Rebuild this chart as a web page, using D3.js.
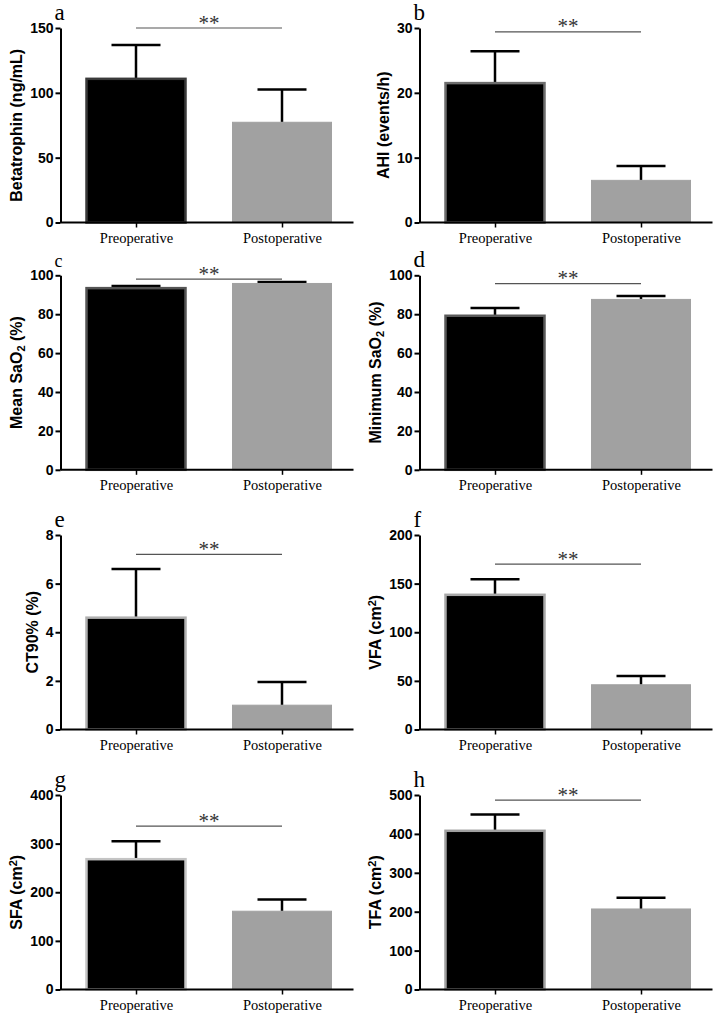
<!DOCTYPE html>
<html><head><meta charset="utf-8">
<script src="https://cdn.jsdelivr.net/npm/d3@7"></script>
<style>body{margin:0;background:#fff}</style>
</head><body>
<svg id="chart" width="716" height="1016"></svg>
<script>
// ---- data ----
const categories = ["Preoperative", "Postoperative"];
const panelLetters = ["a", "b", "c", "d", "e", "f", "g", "h"];
const yTitles = [
  [["Betatrophin (ng/mL)", ""]],
  [["AHI (events/h)", ""]],
  [["Mean SaO", ""], ["2", "sub"], [" (%)", ""]],
  [["Minimum SaO", ""], ["2", "sub"], [" (%)", ""]],
  [["CT90% (%)", ""]],
  [["VFA (cm", ""], ["2", "sup"], [")", ""]],
  [["SFA (cm", ""], ["2", "sup"], [")", ""]],
  [["TFA (cm", ""], ["2", "sup"], [")", ""]]
];
const yMaxes = [150, 30, 100, 100, 8, 200, 400, 500];
const yTickSteps = [50, 10, 20, 20, 2, 50, 100, 100];
const preMeans = [110.8, 21.5, 93.4, 79.2, 4.6, 138.5, 268, 408];
const preErrors = [26, 4.9, 1.1, 4.0, 2.0, 16, 37, 42];
const postMeans = [77.3, 6.5, 95.8, 87.6, 1.0, 46, 161, 207];
const postErrors = [25.3, 2.2, 0.7, 1.8, 0.95, 9, 24, 29];
const sigLabel = "**";
const sigLevels = [150, 29.4, 98, 95.7, 7.2, 170, 336, 487];

// ---- layout / style ----
const colAxisX = [60.5, 419.5];
const rowTop = [28, 275.3, 535, 795];
const plotH = 194.5;
const axisLen = 293;
const barW = 99;
const capHalf = 24.5;
const preStrokes = ["#3a3a3a", "#6e6e6e", "#555", "#5a5a5a", "#b0b0b0", "#a8a8a8", "#c4c4c4", "#a0a0a0"];
const postFill = "#a1a1a1";

const svg = d3.select("#chart");
svg.append("rect").attr("width", 716).attr("height", 1016).attr("fill", "#fff");

panelLetters.forEach((letter, i) => {
  const col = i % 2, row = Math.floor(i / 2);
  const g = svg.append("g").attr("transform", `translate(${colAxisX[col]},${rowTop[row]})`);
  const y = d3.scaleLinear().domain([0, yMaxes[i]]).range([plotH, 0]);
  const x = d3.scalePoint().domain(categories).range([75.5, 221.5]);

  const means = [preMeans[i], postMeans[i]];
  const errs = [preErrors[i], postErrors[i]];
  const rows = categories.map((c, k) => ({c, m: means[k], e: errs[k], k}));

  // error bars
  const eb = g.append("g").attr("stroke", "#000").attr("stroke-width", 2.5).attr("fill", "none");
  rows.forEach(d => {
    eb.append("line").attr("x1", x(d.c)).attr("x2", x(d.c)).attr("y1", y(d.m)).attr("y2", y(d.m + d.e));
    eb.append("line").attr("x1", x(d.c) - capHalf).attr("x2", x(d.c) + capHalf)
      .attr("y1", y(d.m + d.e)).attr("y2", y(d.m + d.e));
  });

  // bars
  g.selectAll("rect.bar").data(rows).enter().append("rect")
    .attr("x", d => x(d.c) - barW / 2)
    .attr("y", d => y(d.m))
    .attr("width", barW)
    .attr("height", d => plotH - y(d.m))
    .attr("fill", d => d.k === 0 ? "#000" : postFill)
    .attr("stroke", d => d.k === 0 ? preStrokes[i] : postFill)
    .attr("stroke-width", d => d.k === 0 ? 2.5 : 1);

  // y axis
  const ticks = d3.range(0, yMaxes[i] + yTickSteps[i] / 2, yTickSteps[i]);
  const ya = g.append("g").call(d3.axisLeft(y).tickValues(ticks).tickSize(5).tickSizeOuter(0).tickPadding(2).tickFormat(d3.format("d")));
  ya.select(".domain").attr("stroke", "#000").attr("stroke-width", 2);
  ya.selectAll(".tick line").attr("stroke", "#000").attr("stroke-width", 2);
  ya.selectAll(".tick text").attr("font-family", "Liberation Sans, Arial, sans-serif")
    .attr("font-weight", "bold").attr("font-size", 14).attr("fill", "#000");

  // x axis
  const xa = g.append("g").attr("transform", `translate(0,${plotH})`)
    .call(d3.axisBottom(x).tickSize(5).tickSizeOuter(0).tickPadding(0));
  xa.select(".domain").attr("d", `M0,0H${axisLen}`).attr("stroke", "#000").attr("stroke-width", 2);
  xa.selectAll(".tick line").attr("stroke", "#000").attr("stroke-width", 1.5);
  xa.selectAll(".tick text").attr("font-family", "Liberation Serif, Times New Roman, serif")
    .attr("font-size", 14.5).attr("fill", "#000").attr("dy", null).attr("y", 20.5);

  // y title placed left of the widest tick label
  let minX = 0;
  ya.selectAll(".tick text").each(function () {
    const b = this.getBBox();
    if (b.x < minX) minX = b.x;
  });
  const titleX = minX - 8;
  const t = g.append("text")
    .attr("transform", `translate(${titleX},${plotH / 2}) rotate(-90)`)
    .attr("text-anchor", "middle")
    .attr("font-family", "Liberation Sans, Arial, sans-serif")
    .attr("font-weight", "bold").attr("font-size", 16).attr("fill", "#000");
  yTitles[i].forEach(([txt, kind]) => {
    const sp = t.append("tspan").text(txt);
    if (kind === "sub") sp.attr("font-size", 11).attr("baseline-shift", "-25%");
    if (kind === "sup") sp.attr("font-size", 11).attr("baseline-shift", "45%");
  });

  // significance bracket
  const sy = y(sigLevels[i]);
  g.append("line").attr("x1", x(categories[0])).attr("x2", x(categories[1]))
    .attr("y1", sy).attr("y2", sy).attr("stroke", "#555").attr("stroke-width", 1.2);
  g.append("text").attr("x", (x(categories[0]) + x(categories[1])) / 2).attr("y", sy + 1.5)
    .attr("text-anchor", "middle").attr("font-family", "Liberation Serif, Times New Roman, serif")
    .attr("font-size", 21).attr("fill", "#333").text(sigLabel);

  // panel letter
  g.append("text").attr("x", -6).attr("y", -8)
    .attr("font-family", "Liberation Serif, Times New Roman, serif")
    .attr("font-size", letter === "c" ? 18 : 23).attr("fill", "#000").text(letter);
});
</script>
</body></html>
